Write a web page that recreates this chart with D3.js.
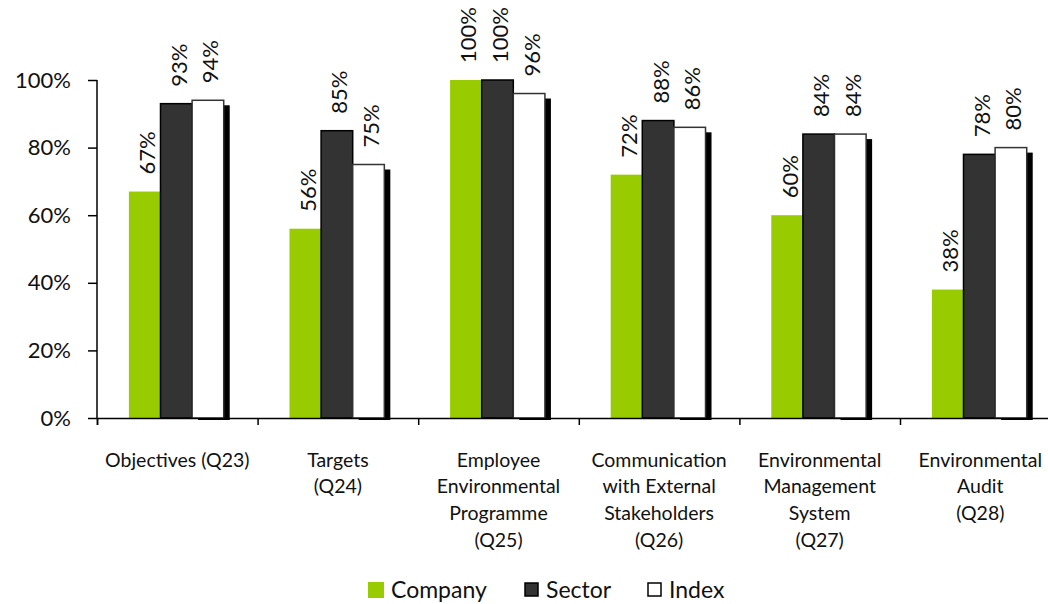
<!DOCTYPE html>
<html>
<head>
<meta charset="utf-8">
<script src="https://cdn.jsdelivr.net/npm/d3@7"></script>
<style>
  html, body { margin: 0; padding: 0; background: #fff; }
  svg { display: block; font-family: Lato, "Open Sans", sans-serif; }
</style>
</head>
<body>
<svg id="chart" width="1048" height="604"></svg>
<script>
const categories = [
  "Objectives (Q23)",
  "Targets\n(Q24)",
  "Employee\nEnvironmental\nProgramme\n(Q25)",
  "Communication\nwith External\nStakeholders\n(Q26)",
  "Environmental\nManagement\nSystem\n(Q27)",
  "Environmental\nAudit\n(Q28)"
];
const seriesNames = ["Company", "Sector", "Index"];
const company = [67, 56, 100, 72, 60, 38];
const sector  = [93, 85, 100, 88, 84, 78];
const index   = [94, 75, 96, 86, 84, 80];
const yTicks  = [0, 20, 40, 60, 80, 100];

(function () {
const colors = { Company: "#99cc00", Sector: "#333333", Index: "#ffffff" };
const strokes = { Company: "none", Sector: "#000000", Index: "#333333" };

const svg = d3.select("#chart");
const pLeft = 97, pTop = 80, pBottom = 418, step = 160.6;
const pRight = pLeft + step * categories.length;

const y = d3.scaleLinear().domain([0, 100]).range([pBottom, pTop]);
const x0 = d3.scaleBand().domain(categories).range([pLeft, pRight]).paddingInner(0).paddingOuter(0);
const x1 = d3.scaleBand().domain(seriesNames).range([0, x0.bandwidth()]).paddingInner(0).paddingOuter(1.04);
const xIdx = d3.scaleLinear().domain([0, categories.length]).range([pLeft, pRight]);

const data = categories.map((c, i) => ({
  cat: c,
  vals: [
    { s: "Company", v: company[i] },
    { s: "Sector", v: sector[i] },
    { s: "Index", v: index[i] }
  ]
}));

const groups = svg.append("g").selectAll("g").data(data).join("g")
  .attr("transform", d => `translate(${x0(d.cat) - 1},0)`);

// shadow for Index bars
groups.append("rect")
  .attr("x", x1("Index") + 6)
  .attr("y", d => y(d.vals[2].v) + 5)
  .attr("width", x1.bandwidth())
  .attr("height", d => pBottom + 2 - (y(d.vals[2].v) + 5))
  .attr("fill", "#000");

groups.selectAll("rect.bar").data(d => d.vals).join("rect")
  .attr("class", "bar")
  .attr("x", d => x1(d.s))
  .attr("y", d => y(d.v))
  .attr("width", x1.bandwidth())
  .attr("height", d => pBottom - y(d.v))
  .attr("fill", d => colors[d.s])
  .attr("stroke", d => strokes[d.s])
  .attr("stroke-width", 1.5);

// value labels
groups.selectAll("text.val").data(d => d.vals).join("text")
  .attr("class", "val")
  .attr("transform", d => `translate(${x1(d.s) + x1.bandwidth() / 2 + 2},${y(d.v) - 17}) rotate(-90)`)
  .attr("dominant-baseline", "central")
  .attr("font-size", 22)
  .attr("fill", "#111")
  .text(d => d.v + "%");

// y axis
const yAxis = svg.append("g")
  .attr("transform", `translate(${pLeft},0)`)
  .call(d3.axisLeft(y).tickValues(yTicks).tickSize(9).tickPadding(17).tickFormat(d => d + "%"));
yAxis.select(".domain").attr("stroke", "#000").attr("stroke-width", 1.5).attr("d", `M0,${pTop}V${pBottom}`);
yAxis.selectAll(".tick line").attr("stroke", "#000").attr("stroke-width", 1.5);
yAxis.selectAll(".tick text").attr("font-size", 22).attr("fill", "#111").attr("font-family", "Lato, sans-serif");

// x axis
const xAxis = svg.append("g")
  .attr("transform", `translate(0,${pBottom})`)
  .call(d3.axisBottom(xIdx).tickValues(d3.range(categories.length + 1)).tickSize(7).tickFormat(""));
xAxis.select(".domain").attr("stroke", "#000").attr("stroke-width", 1.5);
xAxis.selectAll(".tick line").attr("stroke", "#000").attr("stroke-width", 1.5);

// category labels
const catLabels = svg.append("g").selectAll("text").data(categories).join("text")
  .attr("text-anchor", "middle")
  .attr("font-size", 19.5)
  .attr("fill", "#111");
catLabels.each(function(d) {
  const t = d3.select(this);
  d.split("\n").forEach((line, i) => {
    t.append("tspan")
      .attr("x", x0(d) + x0.bandwidth() / 2)
      .attr("y", 459 + i * 26.7)
      .attr("dominant-baseline", "central")
      .text(line);
  });
});

// legend
const legendX = [368, 524, 647];
const legend = svg.append("g").selectAll("g").data(seriesNames).join("g")
  .attr("transform", (d, i) => `translate(${legendX[i]},582)`);
legend.append("rect")
  .attr("x", d => d === "Company" ? 0 : 1)
  .attr("y", d => d === "Company" ? 0 : 1)
  .attr("width", d => d === "Company" ? 16 : 13)
  .attr("height", d => d === "Company" ? 16 : 13)
  .attr("fill", d => colors[d])
  .attr("stroke", d => d === "Company" ? "none" : "#000")
  .attr("stroke-width", 1.5);
legend.append("text")
  .attr("x", d => d === "Company" ? 23 : 22)
  .attr("y", 7)
  .attr("dominant-baseline", "central")
  .attr("font-size", 23)
  .attr("fill", "#111")
  .text(d => d);
})();
</script>
</body>
</html>
